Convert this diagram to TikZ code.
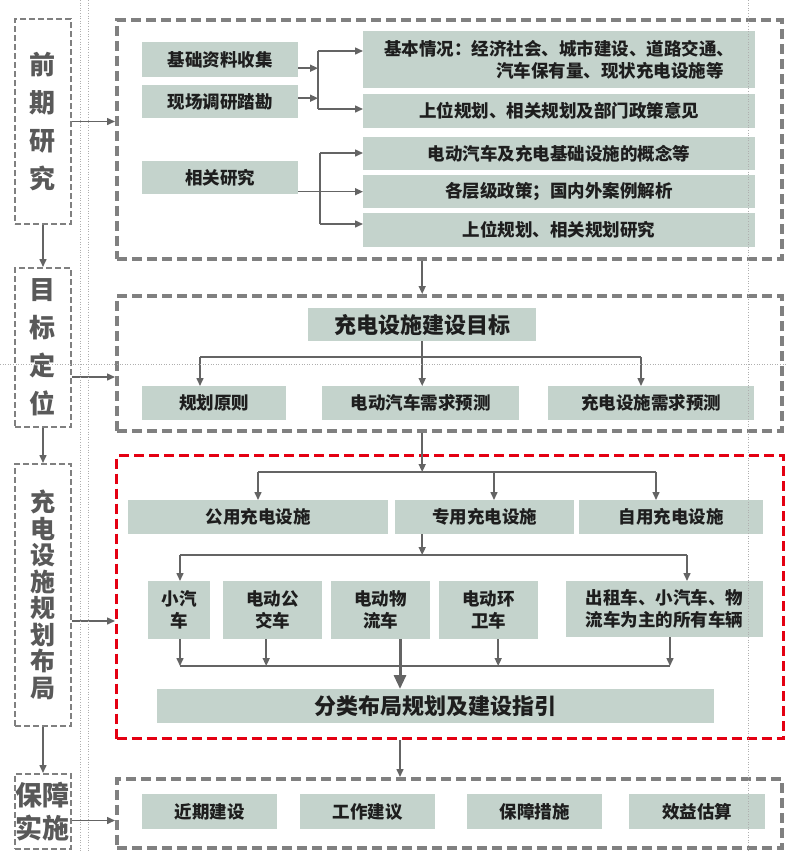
\documentclass[tikz,border=0pt]{standalone}
\usepackage{fontspec}
\setmainfont{Noto Sans CJK SC}
\usetikzlibrary{arrows.meta}
\definecolor{boxFill}{RGB}{196,211,204}
\definecolor{textDark}{RGB}{30,30,30}
\definecolor{phaseGray}{RGB}{89,89,89}
\definecolor{frameGray}{RGB}{128,128,128}
\definecolor{lineGray}{RGB}{100,100,100}
\definecolor{frameRed}{RGB}{228,0,18}
\definecolor{guideGray}{RGB}{175,175,175}
\tikzstyle{canvas} = [x = 1pt, y = -1pt]
\tikzstyle{infoStyle} = [fill=boxFill, text=textDark, font=\bfseries\fontsize{17.5}{22}\selectfont, inner sep=0pt, align=center, anchor=north west]
\tikzstyle{bigText} = [font=\bfseries\fontsize{22}{26}\selectfont]
\tikzstyle{frameStyle} = [draw=frameGray, line width=3.5pt, dash pattern=on 10pt off 5pt, anchor=north west, inner sep=0pt]
\tikzstyle{redFrame} = [frameStyle, draw=frameRed, line width=3pt]
\tikzstyle{phaseStyle} = [draw=frameGray, line width=2pt, dash pattern=on 6pt off 3pt, anchor=north west, inner sep=0pt, text=phaseGray, align=center, font=\bfseries\fontsize{26}{38}\selectfont]
\tikzstyle{plainLine} = [draw=lineGray, line width=1.5pt]
\tikzstyle{arrowLine} = [plainLine, -{Triangle[length=8pt,width=7pt]}]
\tikzstyle{bigArrow} = [draw=lineGray, line width=3pt, -{Triangle[length=14pt,width=12pt]}]
\tikzstyle{guideLine} = [draw=guideGray, line width=0.6pt, dotted]
\newcommand{\infoBox}[6]{\node [infoStyle, minimum width=#4pt, minimum height=#5pt] (#1) at (#2,#3) {#6};}
\newcommand{\frameBox}[6]{\node [#6, minimum width=#4pt, minimum height=#5pt] (#1) at (#2,#3) {};}
\newcommand{\phaseBox}[6]{\node [phaseStyle, minimum width=#4pt, minimum height=#5pt] (#1) at (#2,#3) {#6};}
\begin{document}
\begin{tikzpicture}[canvas]
\useasboundingbox [fill=white] (0,0) rectangle (786,852);
% left column
\phaseBox{phaseStudy}{14}{18}{56}{205}{前\\期\\研\\究}
\phaseBox{phaseTarget}{14}{267}{56}{159}{目\\标\\定\\位}
\node [phaseStyle, minimum width=56pt, minimum height=262pt, font=\bfseries\fontsize{25}{26.5}\selectfont] (phaseLayout) at (14,463) {充\\电\\设\\施\\规\\划\\布\\局};
\node [phaseStyle, minimum width=56pt, minimum height=75pt, font=\bfseries\fontsize{27}{33}\selectfont] (phaseAction) at (14,773) {保障\\实施};
% frames
\frameBox{frameStudy}{115}{18}{665}{239}{frameStyle}
\frameBox{frameTarget}{115}{294}{665}{135}{frameStyle}
\frameBox{frameLayout}{115}{454}{667}{283}{redFrame}
\frameBox{frameAction}{115}{777}{665}{69}{frameStyle}
% study
\infoBox{collect}{142}{42}{156}{35}{基础资料收集}
\infoBox{survey}{142}{85}{156}{33}{现场调研踏勘}
\infoBox{research}{142}{161}{156}{33}{相关研究}
\infoBox{basic}{363}{31}{392}{57}{基本情况：经济社会、城市建设、道路交通、\\\hspace*{5.8em}汽车保有量、现状充电设施等}
\infoBox{upperA}{363}{94}{392}{34}{上位规划、相关规划及部门政策意见}
\infoBox{concept}{363}{137}{392}{33}{电动汽车及充电基础设施的概念等}
\infoBox{policy}{363}{175}{392}{33}{各层级政策；国内外案例解析}
\infoBox{upperB}{363}{213}{392}{34}{上位规划、相关规划研究}
% target
\node [infoStyle, bigText, minimum width=228pt, minimum height=33pt] (target) at (308,308) {充电设施建设目标};
\infoBox{principle}{142}{386}{144}{34}{规划原则}
\infoBox{evDemand}{322}{386}{197}{34}{电动汽车需求预测}
\infoBox{cpDemand}{548}{386}{206}{34}{充电设施需求预测}
% layout
\infoBox{public}{128}{500}{260}{34}{公用充电设施}
\infoBox{dedicated}{395}{500}{179}{34}{专用充电设施}
\infoBox{private}{579}{500}{184}{34}{自用充电设施}
\infoBox{car}{148}{581}{62}{58}{小汽\\车}
\infoBox{bus}{223}{581}{99}{58}{电动公\\交车}
\infoBox{logistics}{331}{581}{99}{58}{电动物\\流车}
\infoBox{sanitation}{439}{581}{99}{58}{电动环\\卫车}
\infoBox{taxi}{566}{581}{197}{56}{出租车、小汽车、物\\流车为主的所有车辆}
\node [infoStyle, bigText, minimum width=557pt, minimum height=34pt] (guide) at (157,689) {分类布局规划及建设指引};
% action
\infoBox{near}{142}{794}{135}{35}{近期建设}
\infoBox{work}{300}{794}{135}{35}{工作建议}
\infoBox{measure}{467}{794}{135}{35}{保障措施}
\infoBox{benefit}{629}{794}{136}{35}{效益估算}
% helper coordinates
\coordinate (forkA) at (318,51);
\coordinate (forkB) at (318,109);
\coordinate (forkC) at (320,153);
\coordinate (forkD) at (320,224);
\coordinate (goalL) at (200,357);
\coordinate (goalR) at (641,357);
\coordinate (typeL) at (258,472);
\coordinate (typeM) at (494,472);
\coordinate (typeR) at (656,472);
\coordinate (vehL) at (180,555);
\coordinate (vehR) at (687,555);
\coordinate (sumL) at (180,666);
\coordinate (sumR) at (670,666);
\coordinate (trunk) at (400,0);
% left column connectors
\draw [arrowLine] (phaseStudy.south) -- (phaseTarget.north);
\draw [arrowLine] (phaseTarget.south) -- (phaseLayout.north);
\draw [arrowLine] (phaseLayout.south) -- (phaseAction.north);
\draw [arrowLine] (phaseStudy.east) -- (phaseStudy.east -| frameStudy.west);
\draw [arrowLine] ([yshift=-29.5pt]phaseTarget.east) -- ([yshift=-29.5pt]phaseTarget.east -| frameTarget.west);
\draw [arrowLine] ([yshift=-26pt]phaseLayout.east) -- ([yshift=-26pt]phaseLayout.east -| frameLayout.west);
\draw [arrowLine] ([yshift=-9pt]phaseAction.east) -- ([yshift=-9pt]phaseAction.east -| frameAction.west);
% study connectors
\draw [arrowLine] ([yshift=-8.5pt]collect.east) -- ([yshift=-8.5pt]collect.east -| forkA);
\draw [arrowLine] ([yshift=3.5pt]survey.east) -- ([yshift=3.5pt]survey.east -| forkA);
\draw [plainLine] (forkA) -- (forkB);
\draw [arrowLine] (forkA) -- (forkA -| basic.west);
\draw [arrowLine] (forkB) -- (forkB -| upperA.west);
\draw [arrowLine] (research.east |- policy) -- (policy.west);
\draw [plainLine] (forkC) -- (forkD);
\draw [arrowLine] (forkC) -- (forkC -| concept.west);
\draw [arrowLine] (forkD) -- (forkD -| upperB.west);
\draw [arrowLine] (target |- frameStudy.south) -- (target |- frameTarget.north);
% target connectors
\draw [arrowLine] (target.south) -- (target.south |- evDemand.north);
\draw [plainLine] (goalL) -- (goalR);
\draw [arrowLine] (goalL) -- (goalL |- principle.north);
\draw [arrowLine] (goalR) -- (goalR |- cpDemand.north);
\draw [arrowLine] (target |- frameTarget.south) -- (target |- typeL);
% layout connectors
\draw [plainLine] (typeL) -- (typeR);
\draw [arrowLine] (typeL) -- (typeL |- public.north);
\draw [arrowLine] (typeM) -- (typeM |- dedicated.north);
\draw [arrowLine] (typeR) -- (typeR |- private.north);
\draw [arrowLine] (target |- dedicated.south) -- (target |- vehL);
\draw [plainLine] (vehL) -- (vehR);
\draw [arrowLine] (vehL) -- (vehL |- car.north);
\draw [arrowLine] (vehR) -- (vehR |- taxi.north);
\draw [arrowLine] (sumL |- car.south) -- (sumL);
\draw [arrowLine] ([xshift=-6.5pt]bus.south) -- ([xshift=-6.5pt]bus.south |- sumL);
\draw [arrowLine] ([xshift=9.5pt]sanitation.south) -- ([xshift=9.5pt]sanitation.south |- sumL);
\draw [arrowLine] (sumR |- taxi.south) -- (sumR);
\draw [plainLine] (sumL) -- (sumR);
\draw [bigArrow] (trunk |- logistics.south) -- (trunk |- guide.north);
\draw [arrowLine] (trunk |- frameLayout.south) -- (trunk |- frameAction.north);
% guides
\draw [guideLine] (80,0) -- (80,852);
\draw [guideLine] (88,0) -- (88,852);
\draw [guideLine] (748,0) -- (748,852);
\draw [guideLine] (0,364) -- (786,364);
\end{tikzpicture}
\end{document}
